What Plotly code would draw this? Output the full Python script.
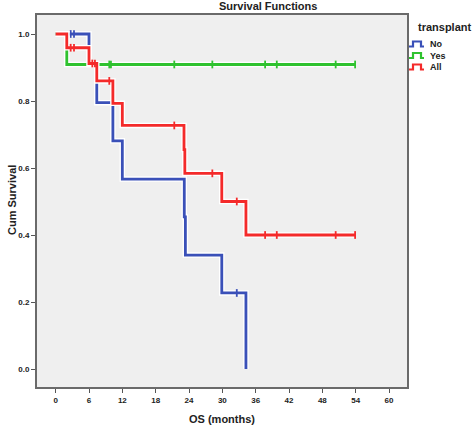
import plotly.graph_objects as go

# ---- data ----
no_t = [0, 6.0, 7.4, 10.3, 12.0, 23.15, 23.35, 29.9, 34.25]
no_s = [1.0, 0.909, 0.795, 0.681, 0.567, 0.454, 0.340, 0.227, 0.0]
no_cens_t = [2.7, 3.3, 32.6]
no_cens_s = [1.0, 1.0, 0.227]

yes_t = [0, 2.0, 53.9]
yes_s = [1.0, 0.909, 0.909]
yes_cens_t = [9.65, 9.95, 21.35, 28.2, 37.7, 39.8, 50.4, 53.9]
yes_cens_s = [0.909] * 8

all_t = [0, 2.0, 6.0, 7.4, 10.3, 12.0, 23.1, 23.25, 29.9, 34.25, 53.9]
all_s = [1.0, 0.959, 0.912, 0.860, 0.793, 0.727, 0.655, 0.584, 0.500, 0.400, 0.400]
all_cens_t = [2.7, 3.3, 6.6, 7.07, 9.65, 21.35, 28.2, 32.6, 37.7, 39.8, 50.4, 53.9]
all_cens_s = [0.959, 0.959, 0.912, 0.912, 0.860, 0.727, 0.584, 0.500, 0.4, 0.4, 0.4, 0.4]

x_ticks = [0, 6, 12, 18, 24, 30, 36, 42, 48, 54, 60]
y_ticks = [0.0, 0.2, 0.4, 0.6, 0.8, 1.0]
y_tick_labels = ["0.0", "0.2", "0.4", "0.6", "0.8", "1.0"]
legend_names = ["No", "Yes", "All"]

BLUE = "#3a50b8"
GREEN = "#2fc22f"
RED = "#f42a2a"

fig = go.Figure()

series = [
    (no_t, no_s, no_cens_t, no_cens_s, BLUE, "No"),
    (yes_t, yes_s, yes_cens_t, yes_cens_s, GREEN, "Yes"),
    (all_t, all_s, all_cens_t, all_cens_s, RED, "All"),
]
for t, s, ct, cs, col, name in series:
    fig.add_trace(go.Scatter(x=t, y=s, mode="lines", line_shape="hv",
                             line=dict(color="white", width=5.5),
                             showlegend=False, hoverinfo="skip"))
    fig.add_trace(go.Scatter(x=t, y=s, mode="lines", line_shape="hv",
                             line=dict(color=col, width=2.8),
                             name=name, showlegend=False))
    fig.add_trace(go.Scatter(x=ct, y=cs, mode="markers",
                             marker=dict(symbol="line-ns", size=5.5,
                                         line=dict(color=col, width=1.8)),
                             showlegend=False, hoverinfo="skip"))

# plot area in px: x 37..407, y 15..387
L, R, T, B = 37, 407, 15, 387
W, H = 472, 428


def px(xp):
    return (xp - L) / (R - L)


def py(yp):
    return (B - yp) / (B - T)


fig.update_layout(
    width=W, height=H,
    margin=dict(l=L, r=W - R, t=T, b=H - B),
    paper_bgcolor="white",
    plot_bgcolor="#efefef",
    showlegend=False,
    font=dict(family="Liberation Sans, Arial", color="#222"),
)
fig.update_xaxes(
    range=[-3.36, 63.24], tickvals=x_ticks, ticktext=[str(v) for v in x_ticks],
    showgrid=False, zeroline=False, showline=True, mirror=True,
    linecolor="#6a6a6a", linewidth=2,
    ticks="outside", ticklen=4, tickwidth=1, tickcolor="#555",
    tickfont=dict(size=8, color="#222", weight="bold"),
    fixedrange=True,
)
fig.update_yaxes(
    range=[-0.0537, 1.0567], tickvals=y_ticks, ticktext=y_tick_labels,
    showgrid=False, zeroline=False, showline=True, mirror=True,
    linecolor="#6a6a6a", linewidth=2,
    ticks="outside", ticklen=4, tickwidth=1, tickcolor="#555",
    tickfont=dict(size=8, color="#222", weight="bold"),
    fixedrange=True,
)

ann = []
ann.append(dict(text="<b>Survival Functions</b>", x=px(268), y=py(6), xref="paper", yref="paper",
                showarrow=False, font=dict(size=11, color="#222"), xanchor="center", yanchor="middle"))
ann.append(dict(text="<b>Cum Survival</b>", x=px(12), y=py(200), xref="paper", yref="paper",
                showarrow=False, textangle=-90, font=dict(size=11, color="#222"),
                xanchor="center", yanchor="middle"))
ann.append(dict(text="<b>OS (months)</b>", x=px(222), y=py(419), xref="paper", yref="paper",
                showarrow=False, font=dict(size=11, color="#222"), xanchor="center", yanchor="middle"))
ann.append(dict(text="<b>transplant</b>", x=px(416), y=py(27), xref="paper", yref="paper",
                showarrow=False, font=dict(size=11, color="#222"), xanchor="left", yanchor="middle"))

shapes = []
leg_y = [44, 55.5, 67]
leg_cols = [BLUE, GREEN, RED]
for name, yc, col in zip(legend_names, leg_y, leg_cols):
    pts = [(409, yc + 2.5), (413, yc + 2.5), (413, yc - 2.5), (421, yc - 2.5), (421, yc + 2.5), (424, yc + 2.5)]
    path = "M " + " L ".join(f"{px(a):.5f},{py(b):.5f}" for a, b in pts)
    shapes.append(dict(type="path", path=path, xref="paper", yref="paper",
                       line=dict(color=col, width=2.2)))
    ann.append(dict(text=f"<b>{name}</b>", x=px(428), y=py(yc), xref="paper", yref="paper",
                    showarrow=False, font=dict(size=9, color="#222"), xanchor="left", yanchor="middle"))

fig.update_layout(annotations=ann, shapes=shapes)
fig.write_html(
    "out.html",
    config={"displayModeBar": False, "staticPlot": True},
    post_script="document.body.style.margin='0';document.body.style.overflow='hidden';",
)
